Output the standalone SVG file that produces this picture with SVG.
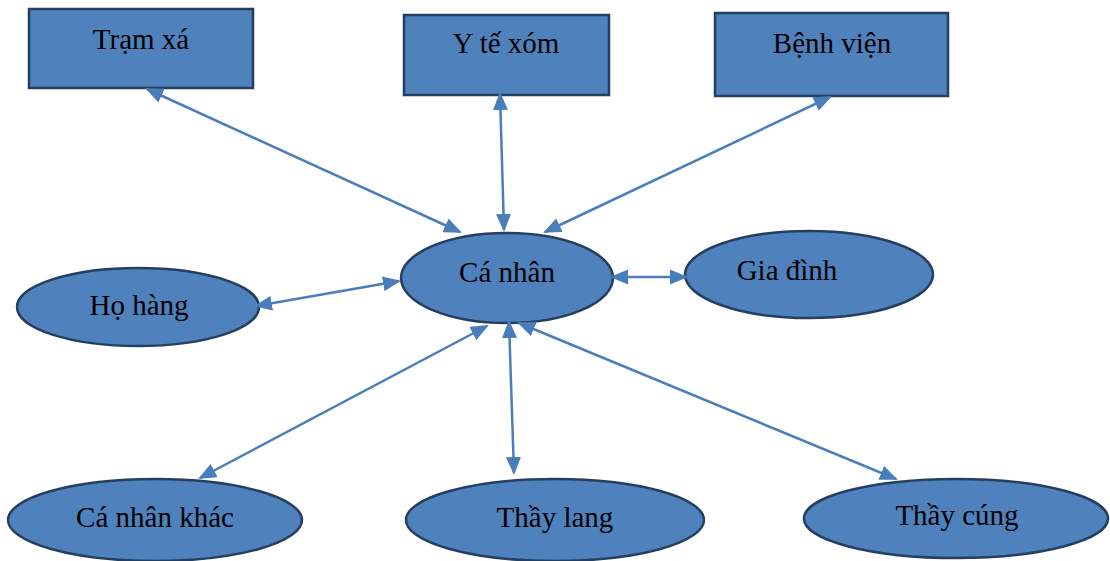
<svg xmlns="http://www.w3.org/2000/svg" width="1110" height="561" viewBox="0 0 1110 561">
<style>
.node{fill:#4F81BD;stroke:#243F60;stroke-width:2.5}
.lbl{font-family:"Liberation Serif","Times New Roman",serif;font-size:29px;fill:#000;text-anchor:middle}
.conn{stroke:#4A7EBB;stroke-width:2.5;fill:none;marker-start:url(#ah);marker-end:url(#ah)}
</style>
<defs>
<marker id="ah" markerUnits="userSpaceOnUse" markerWidth="18" markerHeight="15" refX="16" refY="7.5" orient="auto-start-reverse" viewBox="0 0 18 15">
<path d="M0,0 L18,7.5 L0,15 Z" fill="#4A7EBB"/>
</marker>
</defs>
<rect width="1110" height="561" fill="#fff"/>
<g id="tram-xa"><rect class="node" x="29" y="9" width="224" height="79"/><text class="lbl" x="141" y="49">Trạm xá</text></g>
<g id="y-te-xom"><rect class="node" x="404" y="15" width="205" height="80"/><text class="lbl" x="506" y="53">Y tế xóm</text></g>
<g id="benh-vien"><rect class="node" x="715" y="13" width="233" height="83"/><text class="lbl" x="832" y="53">Bệnh viện</text></g>
<g id="ca-nhan"><ellipse class="node" cx="507" cy="278" rx="106" ry="45"/><text class="lbl" x="507" y="282">Cá nhân</text></g>
<g id="gia-dinh"><ellipse class="node" cx="809" cy="274.5" rx="124" ry="43.5"/><text class="lbl" x="787" y="280">Gia đình</text></g>
<g id="ho-hang"><ellipse class="node" cx="138" cy="307" rx="121" ry="39"/><text class="lbl" x="139" y="315">Họ hàng</text></g>
<g id="ca-nhan-khac"><ellipse class="node" cx="155" cy="520" rx="147" ry="41"/><text class="lbl" x="155" y="527">Cá nhân khác</text></g>
<g id="thay-lang"><ellipse class="node" cx="555" cy="520" rx="149" ry="41"/><text class="lbl" x="555" y="527">Thầy lang</text></g>
<g id="thay-cung"><ellipse class="node" cx="956" cy="518.5" rx="152" ry="39.5"/><text class="lbl" x="957" y="525">Thầy cúng</text></g>
<g id="connectors">
<line class="conn" x1="147" y1="89" x2="460" y2="232"/>
<line class="conn" x1="500" y1="94" x2="504" y2="230"/>
<line class="conn" x1="830" y1="97" x2="545" y2="232"/>
<line class="conn" x1="256" y1="306" x2="399" y2="281"/>
<line class="conn" x1="612" y1="277" x2="686" y2="277"/>
<line class="conn" x1="200" y1="478" x2="487" y2="326"/>
<line class="conn" x1="509" y1="322" x2="514" y2="473"/>
<line class="conn" x1="519" y1="323" x2="896" y2="479"/>
</g>
</svg>
